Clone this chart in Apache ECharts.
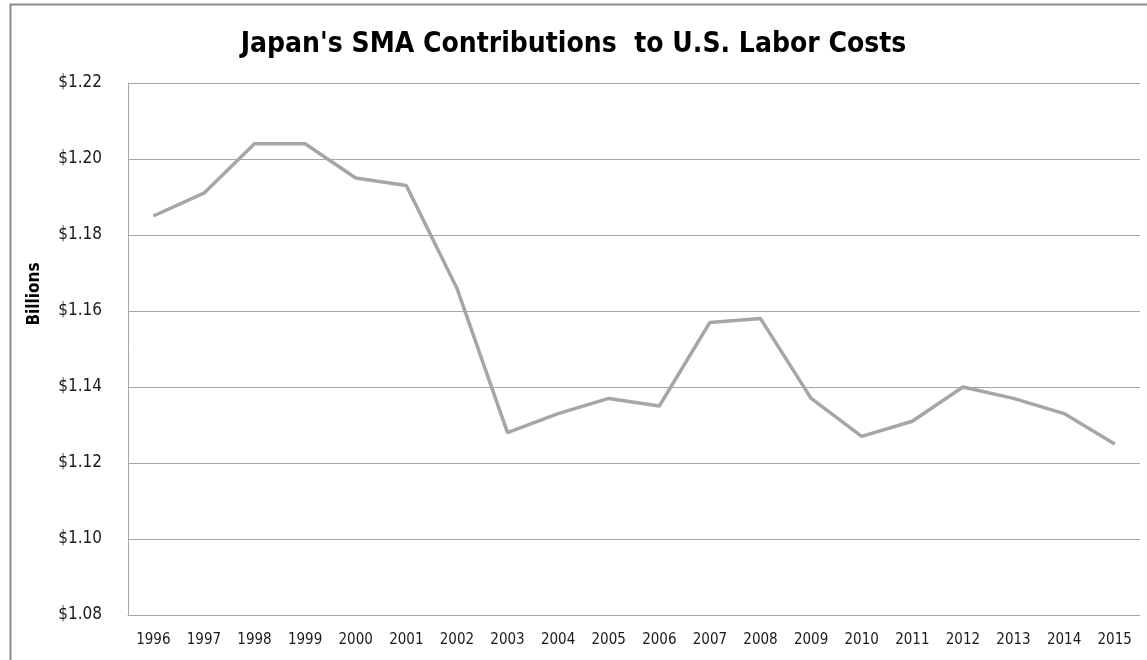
<!DOCTYPE html>
<html>
<head>
<meta charset="utf-8">
<script src="https://cdn.jsdelivr.net/npm/echarts@6/dist/echarts.min.js"></script>
<style>
html,body{margin:0;padding:0;background:#fff;}
#chart{width:1147px;height:660px;}
</style>
</head>
<body>
<div id="chart"></div>
<script>
var titleText = "Japan's SMA Contributions  to U.S. Labor Costs";
var yAxisLabel = "Billions";
var years = ["1996","1997","1998","1999","2000","2001","2002","2003","2004","2005","2006","2007","2008","2009","2010","2011","2012","2013","2014","2015"];
var contributions = [1.185,1.191,1.204,1.204,1.195,1.193,1.166,1.128,1.133,1.137,1.135,1.157,1.158,1.137,1.127,1.131,1.140,1.137,1.133,1.125];
var yMin = 1.08, yMax = 1.22, yStep = 0.02;

var FONT = '"Liberation Sans Narrow","DejaVu Sans Condensed","Liberation Sans",sans-serif';
var chart = echarts.init(document.getElementById('chart'), null, {renderer:'canvas'});
chart.setOption({
  animation:false,
  backgroundColor:'#ffffff',
  title:{
    text:titleText, left:'center', top:26,
    textStyle:{fontFamily:FONT, fontWeight:'bold', fontSize:28, color:'#000000'}
  },
  graphic:[
    {type:'rect', left:8, top:2, shape:{width:1300, height:800}, style:{fill:null, stroke:'#8c8c8c', lineWidth:2}, silent:true, z:-1},
    {type:'text', x:35, y:294, rotation:Math.PI/2, style:{text:yAxisLabel, fontFamily:FONT, fontWeight:'bold', fontSize:17, fill:'#000000', align:'center', verticalAlign:'middle'}}
  ],
  grid:{left:128, right:7, top:83, bottom:45, containLabel:false},
  xAxis:{
    type:'category', data:years, boundaryGap:true,
    axisLine:{lineStyle:{color:'#a6a6a6', width:1}},
    axisTick:{show:false},
    axisLabel:{fontFamily:FONT, fontSize:15, color:'#1a1a1a', margin:18},
    splitLine:{show:false}
  },
  yAxis:{
    type:'value', min:yMin, max:yMax, interval:yStep,
    axisLine:{show:true, lineStyle:{color:'#a6a6a6', width:1}},
    axisTick:{show:false},
    axisLabel:{fontFamily:FONT, fontSize:17, color:'#1a1a1a', margin:26, formatter:function(v){return '$'+v.toFixed(2);}},
    splitLine:{lineStyle:{color:'#a6a6a6', width:1}}
  },
  series:[{
    type:'line', data:contributions, symbol:'none',
    lineStyle:{color:'#a6a6a6', width:3.5}
  }]
});
</script>
</body>
</html>
